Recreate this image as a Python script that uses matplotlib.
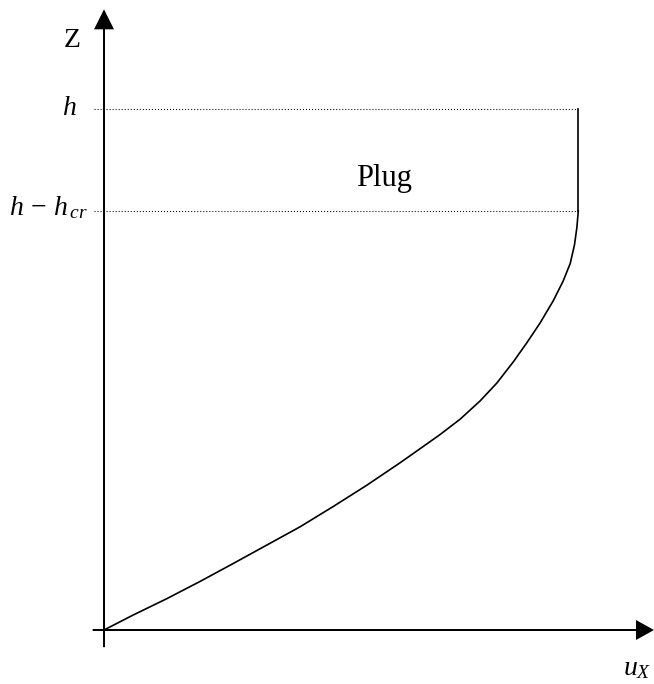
import numpy as np
import matplotlib
matplotlib.use("Agg")
import matplotlib.pyplot as plt

plt.rcParams['font.family'] = ['Liberation Serif', 'DejaVu Serif']
plt.rcParams['mathtext.fontset'] = 'custom'
plt.rcParams['mathtext.rm'] = 'Liberation Serif'
plt.rcParams['mathtext.it'] = 'Liberation Serif:italic'

# velocity profile below the plug (u scaled by plug velocity, z scaled by h)
u_profil = [0.0, 0.062, 0.132, 0.202, 0.273, 0.343, 0.413, 0.483, 0.554,
            0.624, 0.663, 0.708, 0.751, 0.793, 0.828, 0.863, 0.891, 0.919,
            0.947, 0.968, 0.983, 0.992, 0.997, 1.0]
z_profil = [0.0, 0.029, 0.060, 0.093, 0.128, 0.163, 0.198, 0.237, 0.278,
            0.321, 0.346, 0.375, 0.405, 0.440, 0.474, 0.515, 0.551, 0.589,
            0.632, 0.670, 0.704, 0.740, 0.773, 0.805]

h = 1.0
h_cr = 0.195
u_plug = 1.0

fig = plt.figure(figsize=(6.54, 6.84), dpi=100)
ax = fig.add_axes([0, 0, 1, 1])
ax.set_xlim(-0.2193, 1.1596)
ax.set_ylim(-0.1037, 1.2099)
ax.axis('off')

# axes with arrow heads
ax.arrow(0, -0.033, 0, 1.192 + 0.033, width=0.0042, head_width=0.042,
         head_length=0.0384, length_includes_head=True, fc='k', ec='k', lw=0)
ax.arrow(-0.024, 0, 1.1596 + 0.024, 0, width=0.0038, head_width=0.0384,
         head_length=0.038, length_includes_head=True, fc='k', ec='k', lw=0)

# h and h - h_cr levels
for niveau in [h, h - h_cr]:
    ax.plot([-0.0205, u_plug], [niveau, niveau], color='k', lw=0.75,
            linestyle=(0, (1, 1.9)))

# plug region and sheared region
ax.plot([u_plug, u_plug], [h - h_cr, h], color='k', lw=1.2)
ax.plot(u_profil, z_profil, color='k', lw=1.2, solid_joinstyle='round')

ax.text(-0.068, 1.132, 'Z', fontsize=20, ha='center', va='center')
ax.text(-0.073, 0.989, r'$h$', fontsize=20, ha='center', va='baseline')
ax.text(-0.034, 0.797, r'$h\,-\,h_{\,cr}$', fontsize=20, ha='right', va='baseline')
ax.text(0.590, 0.853, 'Plug', fontsize=22, ha='center', va='baseline')
ax.text(1.094, -0.086, r'$u_X$', fontsize=20, ha='left', va='baseline')

fig.savefig('out.png', dpi=100)
